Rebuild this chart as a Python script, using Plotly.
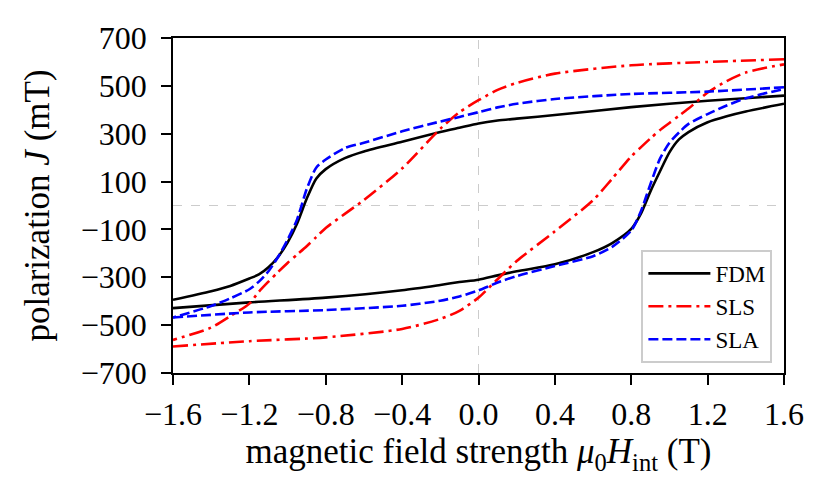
import plotly.graph_objects as go

# field values (T) where the curves were read
H_up = [-1.6, -1.4, -1.3, -1.2, -1.15, -1.1, -1.05, -1.0, -0.95, -0.9, -0.85, -0.8, -0.7,
        -0.6, -0.4, -0.2, -0.1, 0.0, 0.1, 0.2, 0.4, 0.8, 1.2, 1.6]
H_low = [-1.6, -1.2, -0.8, -0.4, -0.2, -0.1, 0.0, 0.1, 0.2, 0.4, 0.6, 0.7, 0.8, 0.85,
         0.9, 0.95, 1.0, 1.05, 1.1, 1.2, 1.3, 1.4, 1.6]

# polarization (mT), descending (upper) branch
fdm_up = [-394, -358, -336, -305, -288, -258, -215, -155, -75, 28, 112, 152, 198,
          226, 266, 307, 325, 343, 355, 363, 378, 411, 438, 459]
sls_up = [-562, -510, -462, -410, -360, -318, -278, -240, -205, -170, -132, -94, -35,
          23, 155, 321, 390, 440, 483, 512, 551, 586, 600, 611]
sla_up = [-468, -420, -388, -350, -318, -275, -215, -143, -58, 68, 158, 192, 240,
          262, 310, 351, 370, 390, 410, 425, 445, 466, 476, 494]

# polarization (mT), ascending (lower) branch
fdm_low = [-429, -405, -385, -354, -332, -320, -310, -292, -275, -246, -195, -157,
           -98, -35, 58, 142, 222, 276, 307, 348, 373, 393, 425]
sls_low = [-589, -567, -551, -516, -474, -440, -385, -308, -232, -108, 22, 112,
           205, 243, 280, 315, 345, 375, 405, 472, 520, 556, 590]
sla_low = [-468, -447, -437, -419, -398, -380, -355, -322, -295, -253, -212, -173,
           -105, -25, 88, 195, 262, 305, 341, 382, 418, 448, 487]

names = ["FDM", "SLS", "SLA"]
ups = [fdm_up, sls_up, sla_up]
lows = [fdm_low, sls_low, sla_low]
colors = ["black", "#ff0000", "#0000ff"]
dashes = ["solid", "15px,5px,3px,5px", "10px,4px"]

y_ticks = list(range(-700, 701, 200))
x_ticks = [-1.6, -1.2, -0.8, -0.4, 0.0, 0.4, 0.8, 1.2, 1.6]

fig = go.Figure()
for name, up, low, col, dash in zip(names, ups, lows, colors, dashes):
    # full loop: upper branch from +H to -H, then lower branch back up
    hx = H_up[::-1] + [None] + H_low
    jy = up[::-1] + [None] + low
    fig.add_trace(go.Scatter(x=hx, y=jy, mode="lines", name=name,
                             line=dict(color=col, width=2.6, dash=dash,
                                       shape="spline", smoothing=0.7)))

fig.add_vline(x=0, line=dict(color="#cccccc", width=1, dash="dash"), layer="below")
fig.add_hline(y=0, line=dict(color="#cccccc", width=1, dash="dash"), layer="below")

font = "Liberation Serif"
axis_common = dict(showline=True, linecolor="black", linewidth=1.5, mirror=True,
                   ticks="outside", ticklen=10, tickwidth=1.5, tickcolor="black",
                   showgrid=False, zeroline=False,
                   tickfont=dict(family=font, size=32, color="black"))

fig.update_xaxes(range=[-1.6, 1.6], tickvals=x_ticks,
                 ticktext=[f"{v:.1f}".replace("-", "\u2212") for v in x_ticks],
                 ticklabelstandoff=2,
                 title=dict(text="magnetic field strength <i>μ</i><sub>0</sub><i>H</i><sub>int</sub> (T)",
                            font=dict(family=font, size=35, color="black"), standoff=6),
                 **axis_common)
fig.update_yaxes(range=[-700, 700], tickvals=y_ticks,
                 ticktext=[str(v).replace("-", "\u2212") for v in y_ticks],
                 ticklabelstandoff=8,
                 title=dict(text="polarization <i>J</i> (mT)",
                            font=dict(family=font, size=35, color="black"), standoff=21),
                 **axis_common)

# page body adds an 8 px offset, so the figure is drawn 8 px smaller
fig.update_layout(
    width=822, height=489,
    margin=dict(l=165, r=46, t=27, b=124),
    plot_bgcolor="white", paper_bgcolor="white",
    legend=dict(x=0.981, y=0.03, xanchor="right", yanchor="bottom",
                bgcolor="rgba(255,255,255,0.85)", bordercolor="#cccccc", borderwidth=2,
                font=dict(family=font, size=23, color="black"), itemwidth=62,
                tracegroupgap=0),
    showlegend=True,
)

fig.write_html("out.html")
